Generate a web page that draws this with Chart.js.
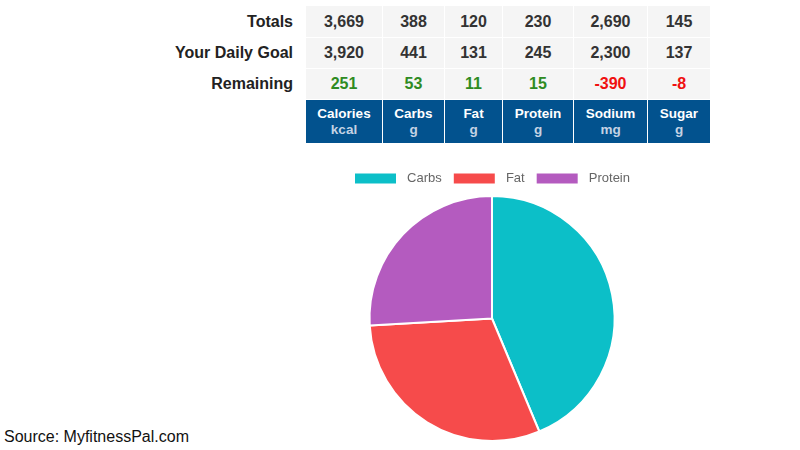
<!DOCTYPE html>
<html>
<head>
<meta charset="utf-8">
<script src="https://cdn.jsdelivr.net/npm/chart.js@4/dist/chart.umd.min.js"></script>
<style>
  html, body { margin:0; padding:0; background:#fff; width:800px; height:450px; overflow:hidden; font-family:"Liberation Sans", Arial, sans-serif; }
  #tbl { position:absolute; left:150px; top:5px; border-collapse:collapse; }
  #tbl td { padding:0; text-align:center; font-weight:bold; font-size:16px; color:#333; }
  #tbl tr.data td { height:30px; }
  #tbl tr.data:first-child td { height:31px; }
  #tbl td.lbl { width:143px; text-align:right; padding-right:12px; color:#222; background:#fff; }
  #tbl td.val { background:#f5f5f5; border:1px solid #fff; }
  #tbl td.pos { color:#2e8b22; }
  #tbl td.neg { color:#f01010; }
  #tbl tr.hdr td.h { background:#02528e; color:#fff; height:43px; font-size:13.5px; line-height:16px; border:1px solid #fff; border-top:none; }
  #tbl tr.hdr td.h span { color:#c4d2e4; }
  #src { position:absolute; left:4px; top:428px; font-size:16px; color:#111; }
  #wrap { position:absolute; left:292px; top:161px; width:400px; height:285px; }
</style>
</head>
<body>
<table id="tbl"></table>
<div id="src">Source: MyfitnessPal.com</div>
<div id="wrap"><canvas id="c"></canvas></div>
<script>
const nutrients = ["Calories", "Carbs", "Fat", "Protein", "Sodium", "Sugar"];
const units = ["kcal", "g", "g", "g", "mg", "g"];
const totals = ["3,669", "388", "120", "230", "2,690", "145"];
const goals = ["3,920", "441", "131", "245", "2,300", "137"];
const remaining = ["251", "53", "11", "15", "-390", "-8"];
const colWidths = [76, 61, 57, 70, 73, 62];

const pieLabels = ["Carbs", "Fat", "Protein"];
const pieValues = [1552, 1080, 920];
const pieColors = ["#0cbfc8", "#f64b4b", "#b45bbf"];

const tbl = document.getElementById("tbl");
function addRow(label, vals, cls) {
  const tr = document.createElement("tr");
  tr.className = "data";
  const l = document.createElement("td");
  l.className = "lbl"; l.textContent = label; tr.appendChild(l);
  vals.forEach((v, i) => {
    const td = document.createElement("td");
    td.className = "val" + (cls ? (" " + (v.startsWith("-") ? "neg" : "pos")) : "");
    td.style.width = colWidths[i] + "px";
    td.textContent = v;
    tr.appendChild(td);
  });
  tbl.appendChild(tr);
}
addRow("Totals", totals, false);
addRow("Your Daily Goal", goals, false);
addRow("Remaining", remaining, true);
const hr = document.createElement("tr");
hr.className = "hdr";
const e = document.createElement("td"); e.className = "lbl"; hr.appendChild(e);
nutrients.forEach((n, i) => {
  const td = document.createElement("td");
  td.className = "h";
  td.innerHTML = n + "<br><span>" + units[i] + "</span>";
  hr.appendChild(td);
});
tbl.appendChild(hr);

new Chart(document.getElementById("c"), {
  type: "pie",
  data: {
    labels: pieLabels,
    datasets: [{ data: pieValues, backgroundColor: pieColors, borderColor: "#fff", borderWidth: 2 }]
  },
  options: {
    responsive: true,
    maintainAspectRatio: false,
    animation: false,
    layout: { padding: { top: 0, bottom: 4 } },
    plugins: {
      tooltip: { enabled: false },
      legend: {
        position: "top",
        labels: {
          boxWidth: 43, boxHeight: 12,
          color: "#666",
          font: { family: "'Liberation Sans', Arial, sans-serif", size: 13 },
          padding: 11,
          generateLabels: (chart) => Chart.overrides.pie.plugins.legend.labels.generateLabels(chart)
            .map(it => Object.assign(it, { text: " " + it.text }))
        }
      }
    }
  }
});
</script>
</body>
</html>
